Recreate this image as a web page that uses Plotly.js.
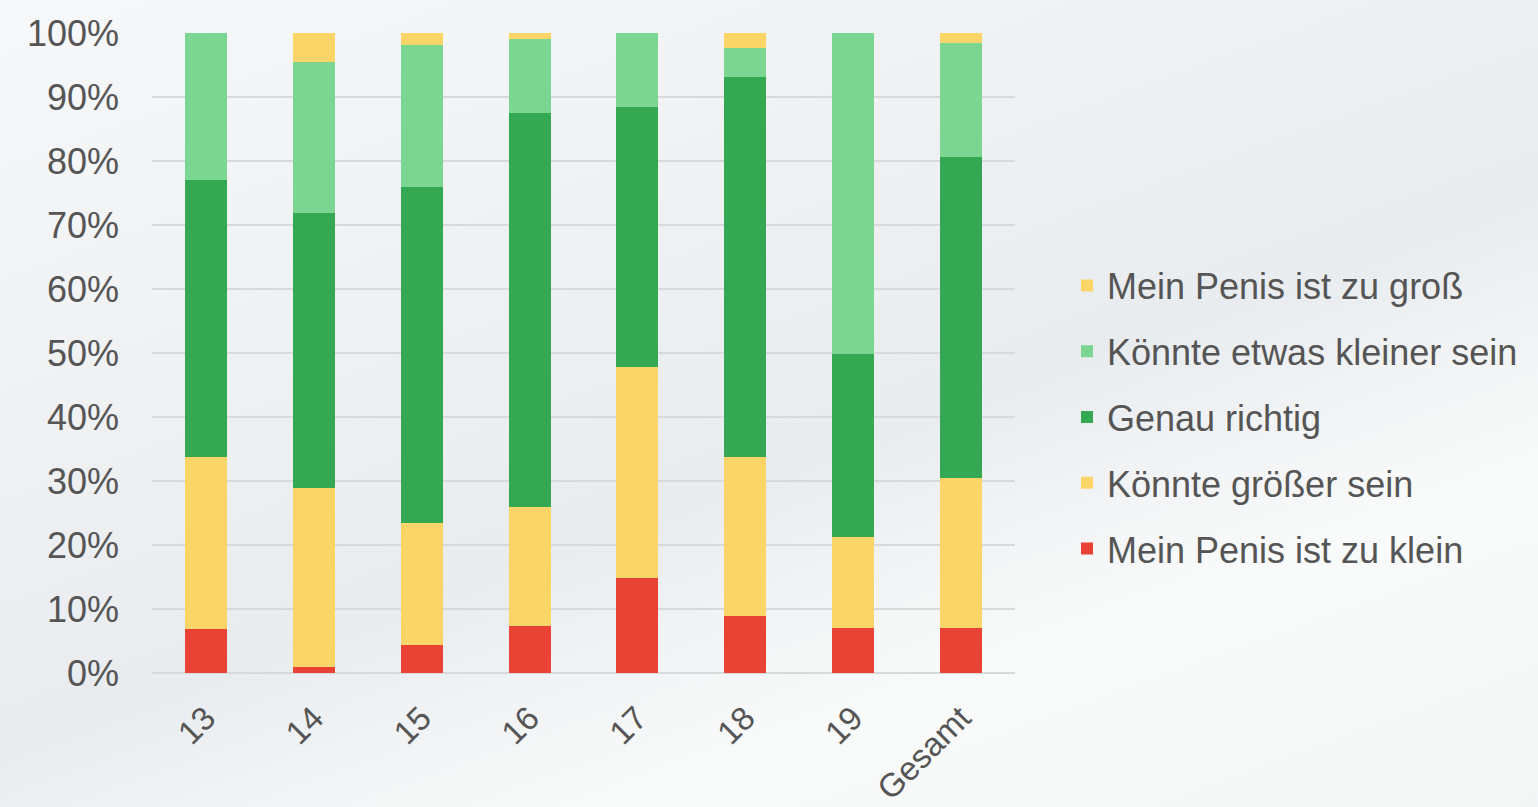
<!DOCTYPE html>
<html>
<head>
<meta charset="utf-8">
<script src="https://cdn.plot.ly/plotly-3.0.1.min.js"></script>
<style>
html,body{margin:0;padding:0;width:1538px;height:807px;overflow:hidden;}
body{background:linear-gradient(160deg,#f7f8f9 0%,#eef0f2 35%,#e9ecef 55%,#f9fafa 75%,#f4f5f6 100%);}
#chart{width:1538px;height:807px;}
</style>
</head>
<body>
<div id="chart"></div>
<script>
const categories = ["13","14","15","16","17","18","19","Gesamt"];
const zuKlein      = [6.8, 0.9, 4.4, 7.4, 14.9, 8.85, 7.0, 7.0];
const groesser     = [27.0, 28.0, 19.1, 18.5, 32.85, 24.95, 14.2, 23.4];
const genauRichtig = [43.3, 43.0, 52.4, 61.6, 40.65, 59.3, 28.6, 50.2];
const kleiner      = [22.9, 23.6, 22.3, 11.5, 11.6, 4.5, 50.2, 17.8];
const zuGross      = [0.0, 4.5, 1.8, 1.0, 0.0, 2.4, 0.0, 1.6];

const seriesNames = ["Mein Penis ist zu klein","Könnte größer sein","Genau richtig","Könnte etwas kleiner sein","Mein Penis ist zu groß"];
const seriesValues = [zuKlein, groesser, genauRichtig, kleiner, zuGross];
const seriesColors = ["#E94335","#FCD568","#34A853","#7BD692","#FCD568"];

const traces = seriesNames.map((n,i)=>({
  type:'bar', name:n, x:categories, y:seriesValues[i],
  marker:{color:seriesColors[i], line:{width:0}},
  legendgroup:'g'+i, legendrank:(seriesNames.length-i)*100, hoverinfo:'x+y+name'
}));

const font = {family:'"Liberation Sans", Arial, sans-serif', color:'#555555'};
const layout = {
  width:1538, height:807,
  paper_bgcolor:'rgba(0,0,0,0)', plot_bgcolor:'rgba(0,0,0,0)',
  barmode:'stack', bargap:0.61,
  margin:{l:152, r:523, t:33, b:134},
  font:font,
  xaxis:{type:'category', tickangle:-45, tickfont:{size:33, family:font.family, color:'#555555'},
         showgrid:false, zeroline:false, showline:false, ticks:'', ticklabelstandoff:18},
  yaxis:{range:[0,100], dtick:10, ticksuffix:'%', tickfont:{size:36, family:font.family, color:'#555555'},
         gridcolor:'#d8d9db', gridwidth:2, zeroline:true, zerolinecolor:'#d8d9db', zerolinewidth:2,
         showline:false, ticks:'', ticklabelstandoff:32},
  legend:{xref:'container', yref:'container', x:1067/1538, y:1-417/807, xanchor:'left', yanchor:'middle',
          traceorder:'grouped', tracegroupgap:16, bgcolor:'rgba(0,0,0,0)',
          font:{size:36, family:font.family, color:'#555555'}, itemwidth:30},
  showlegend:true
};
Plotly.newPlot('chart', traces, layout, {displayModeBar:false, staticPlot:true});
</script>
</body>
</html>
